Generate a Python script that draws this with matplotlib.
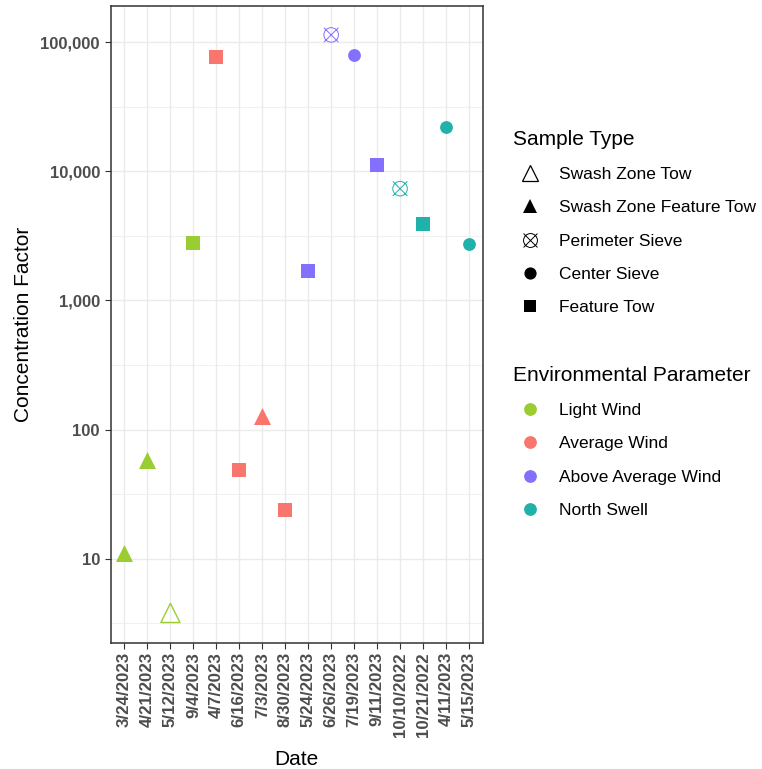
import matplotlib
matplotlib.use("Agg")
import matplotlib.pyplot as plt
from matplotlib.path import Path
from matplotlib.lines import Line2D
from matplotlib.ticker import FixedLocator, FuncFormatter
import numpy as np

plt.rcParams['font.family'] = ['Liberation Sans', 'DejaVu Sans']

# data
dates = ["3/24/2023", "4/21/2023", "5/12/2023", "9/4/2023", "4/7/2023", "6/16/2023",
         "7/3/2023", "8/30/2023", "5/24/2023", "6/26/2023", "7/19/2023", "9/11/2023",
         "10/10/2022", "10/21/2022", "4/11/2023", "5/15/2023"]
conc = [11, 58, 3.8, 2770, 76900, 49, 127, 23.7, 1680, 114000, 79800, 11300,
        7350, 3900, 22200, 2720]
sample_type = ["Swash Zone Feature Tow", "Swash Zone Feature Tow", "Swash Zone Tow",
               "Feature Tow", "Feature Tow", "Feature Tow", "Swash Zone Feature Tow",
               "Feature Tow", "Feature Tow", "Perimeter Sieve", "Center Sieve",
               "Feature Tow", "Perimeter Sieve", "Feature Tow", "Center Sieve",
               "Center Sieve"]
env_param = ["Light Wind", "Light Wind", "Light Wind", "Light Wind", "Average Wind",
             "Average Wind", "Average Wind", "Average Wind", "Above Average Wind",
             "Above Average Wind", "Above Average Wind", "Above Average Wind",
             "North Swell", "North Swell", "North Swell", "North Swell"]

type_order = ["Swash Zone Tow", "Swash Zone Feature Tow", "Perimeter Sieve",
              "Center Sieve", "Feature Tow"]
env_order = ["Light Wind", "Average Wind", "Above Average Wind", "North Swell"]
env_colors = {"Light Wind": "#9ACD32", "Average Wind": "#F8766D",
              "Above Average Wind": "#8470FF", "North Swell": "#20B2AA"}

# circle with an x through it (ggplot shape 13)
sieve = Path.make_compound_path(
    Path.unit_circle(),
    Path([(-1, -1), (1, 1), (-1, 1), (1, -1)],
         [Path.MOVETO, Path.LINETO, Path.MOVETO, Path.LINETO]))

# marker, size (pt^2), filled?
shape_map = {
    "Swash Zone Tow": ("^", 190, False),
    "Swash Zone Feature Tow": ("^", 150, True),
    "Perimeter Sieve": (sieve, 110, False),
    "Center Sieve": ("o", 85, True),
    "Feature Tow": ("s", 100, True),
}

fig = plt.figure(figsize=(7.62, 7.69), dpi=100)
ax = fig.add_axes([0.1453, 0.1642, 0.4882, 0.828])

xpos = np.arange(len(dates))
for i in range(len(dates)):
    m, s, filled = shape_map[sample_type[i]]
    c = env_colors[env_param[i]]
    if filled:
        ax.scatter(xpos[i], conc[i], marker=m, s=s, color=c, linewidths=0, zorder=3)
    else:
        lw = 0.7 if m is sieve else 1.0
        ax.scatter(xpos[i], conc[i], marker=m, s=s, facecolors="none",
                   edgecolors=c, linewidths=lw, zorder=3)

ax.set_yscale("log")
ax.set_ylim(10 ** 0.349, 10 ** 5.281)
ax.set_xlim(-0.6, len(dates) - 0.4)

ax.yaxis.set_major_locator(FixedLocator([10, 100, 1000, 10000, 100000]))
ax.yaxis.set_minor_locator(FixedLocator([10 ** (k + 0.5) for k in range(0, 6)]))
ax.yaxis.set_major_formatter(FuncFormatter(lambda v, p: f"{int(round(v)):,}"))
ax.yaxis.set_minor_formatter(FuncFormatter(lambda v, p: ""))
ax.set_xticks(xpos)
ax.set_xticklabels(dates, rotation=90, fontweight="bold", fontsize=12.2, color="#4D4D4D")

for lab in ax.get_yticklabels():
    lab.set_fontweight("bold")
ax.tick_params(axis="y", which="major", labelsize=12, labelcolor="#4D4D4D",
               length=4.3, width=0.8, color="#333333", pad=3.5)
ax.tick_params(axis="y", which="minor", length=0)
ax.tick_params(axis="x", length=4.3, width=0.8, color="#333333", pad=2.5)

ax.grid(True, which="major", color="#EBEBEB", linewidth=1.0)
ax.grid(True, which="minor", axis="y", color="#EBEBEB", linewidth=0.5)
ax.set_axisbelow(True)
for sp in ax.spines.values():
    sp.set_color("#333333")
    sp.set_linewidth(1.1)

ax.set_xlabel("Date", fontsize=15, labelpad=9.5)
ax.set_ylabel("Concentration Factor", fontsize=15, labelpad=5)

# legends
type_handles = []
for t in type_order:
    m, s, filled = shape_map[t]
    ms = {"Swash Zone Tow": 11, "Swash Zone Feature Tow": 10,
          "Perimeter Sieve": 10, "Center Sieve": 8.8, "Feature Tow": 8.6}[t]
    if filled:
        h = Line2D([], [], linestyle="none", marker=m, markersize=ms,
                   markerfacecolor="black", markeredgewidth=0)
    else:
        h = Line2D([], [], linestyle="none", marker=m, markersize=ms,
                   markerfacecolor="none", markeredgecolor="black",
                   markeredgewidth=0.7 if m is sieve else 0.9)
    type_handles.append(h)

env_handles = [Line2D([], [], linestyle="none", marker="o", markersize=9.2,
                      markerfacecolor=env_colors[e], markeredgewidth=0)
               for e in env_order]

leg_kw = dict(loc="upper left", frameon=False, fontsize=12.5, title_fontsize=15,
              handlelength=2.0, handletextpad=0.65, labelspacing=1.04,
              borderpad=0, borderaxespad=0, alignment="left",
              bbox_transform=fig.transFigure)
leg1 = ax.legend(type_handles, type_order, title="Sample Type",
                 bbox_to_anchor=(513 / 762, 1 - 130 / 769), **leg_kw)
ax.add_artist(leg1)
leg2 = ax.legend(env_handles, env_order, title="Environmental Parameter",
                 bbox_to_anchor=(513 / 762, 1 - 366 / 769), **leg_kw)

fig.savefig("out.png", dpi=100)
